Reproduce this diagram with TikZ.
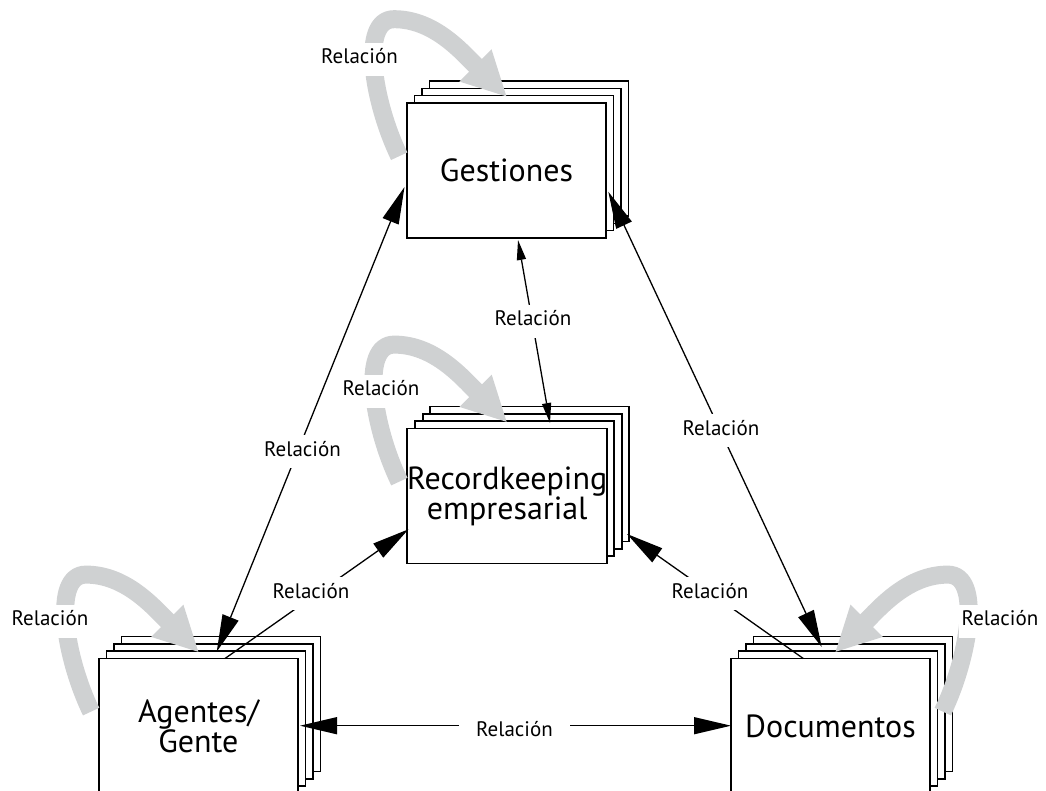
\documentclass[tikz,border=0pt]{standalone}
\usepackage{fontspec}
\setmainfont{PT Sans}
\usetikzlibrary{arrows.meta,calc}
\definecolor{loopgray}{RGB}{207,209,210}
\tikzset{
  box/.style={draw, line width=1.6pt, fill=white, minimum width=199pt, minimum height=135pt,
    inner sep=0pt, align=center, font=\fontsize{32}{30}\selectfont},
  layer/.style={draw, line width=1.6pt, fill=white},
  rel/.style={line width=1.3pt},
  big/.style={rel, {Triangle[length=37pt,width=17pt]}-{Triangle[length=37pt,width=17pt]}},
  bigend/.style={rel, -{Triangle[length=37pt,width=17pt]}},
  small/.style={rel, {Triangle[length=20pt,width=9pt]}-{Triangle[length=20pt,width=9pt]}},
  loopband/.style={loopgray, line width=18pt, -{Triangle[length=45pt,width=42pt]}},
  lbl/.style={fill=white, inner xsep=3pt, inner ysep=4pt, text height=17pt, text depth=8pt,
    anchor=base, font=\fontsize{21}{24}\selectfont},
}
\newcommand\stackbox[4]{%
  \foreach \k in {3,2,1}{\draw[layer] ({#2-99.5+7.5*\k},{#3-67.5-7.3*\k}) rectangle ++(199,135);}
  \node[box] (#1) at (#2,#3) {#4};
}
\newcommand\loopshape{%
  (-7,54) .. controls (-33,0) and (-47,-83) .. (-12,-83)
          .. controls (28,-83) and (56,-50) .. (101,-5)}
\begin{document}
\begin{tikzpicture}[x=1pt,y=-1pt]
\useasboundingbox (0,0) rectangle (1046,791);
% boxes
\stackbox{G}{506.5}{170.5}{Gestiones}
\stackbox{R}{507.2}{495.9}{Recordkeeping\\empresarial}
\stackbox{A}{198.4}{725.9}{Agentes/\\Gente}
\stackbox{D}{830.5}{725.9}{Documentos}
% connector ends
\coordinate (G-a) at (404.5,187);
\coordinate (A-g) at (216.7,651.7);
\coordinate (G-d) at (608.3,191.7);
\coordinate (D-g) at (821.7,647);
\coordinate (G-r) at (518,240);
\coordinate (R-g) at (550,423);
\coordinate (A-r) at (225,658.5);
\coordinate (R-a) at (408.5,529.3);
\coordinate (D-r) at (803.3,658.5);
\coordinate (R-d) at (627,534);
\coordinate (A-d) at (300,725.7);
\coordinate (D-a) at (731,725.7);
% connectors
\draw[big] (A-g) -- (G-a);
\draw[big] (G-d) -- (D-g);
\draw[small] (G-r) -- (R-g);
\draw[bigend] (A-r) -- (R-a);
\draw[bigend] (D-r) -- (R-d);
\draw[big] (A-d) -- (D-a);
% self loops
\begin{scope}[shift={(G.north west)}]
  \draw[loopband] \loopshape;
\end{scope}
\begin{scope}[shift={(R.north west)}]
  \draw[loopband] \loopshape;
\end{scope}
\begin{scope}[shift={(A.north west)}]
  \draw[loopband] \loopshape;
\end{scope}
\begin{scope}[shift={($(D.north east)+(5,0)$)}, xscale=-1]
  \draw[loopband] \loopshape;
\end{scope}
% labels
\node[lbl] (lAG) at (302.5,456) {Relación};
\node[lbl] (lGD) at (721,435) {Relación};
\node[lbl] (lGR) at (533,326) {Relación};
\node[lbl] (lAR) at (311,598) {Relación};
\node[lbl] (lDR) at (710,598) {Relación};
\node[lbl, inner xsep=17pt] (lAD) at (514.5,736.7) {Relación};
\node[lbl] (lGG) at (359.5,64) {Relación};
\node[lbl] (lRR) at (381,395.7) {Relación};
\node[lbl] (lAA) at (50,625.7) {Relación};
\node[lbl] (lDD) at (1000,625.7) {Relación};
\end{tikzpicture}
\end{document}
